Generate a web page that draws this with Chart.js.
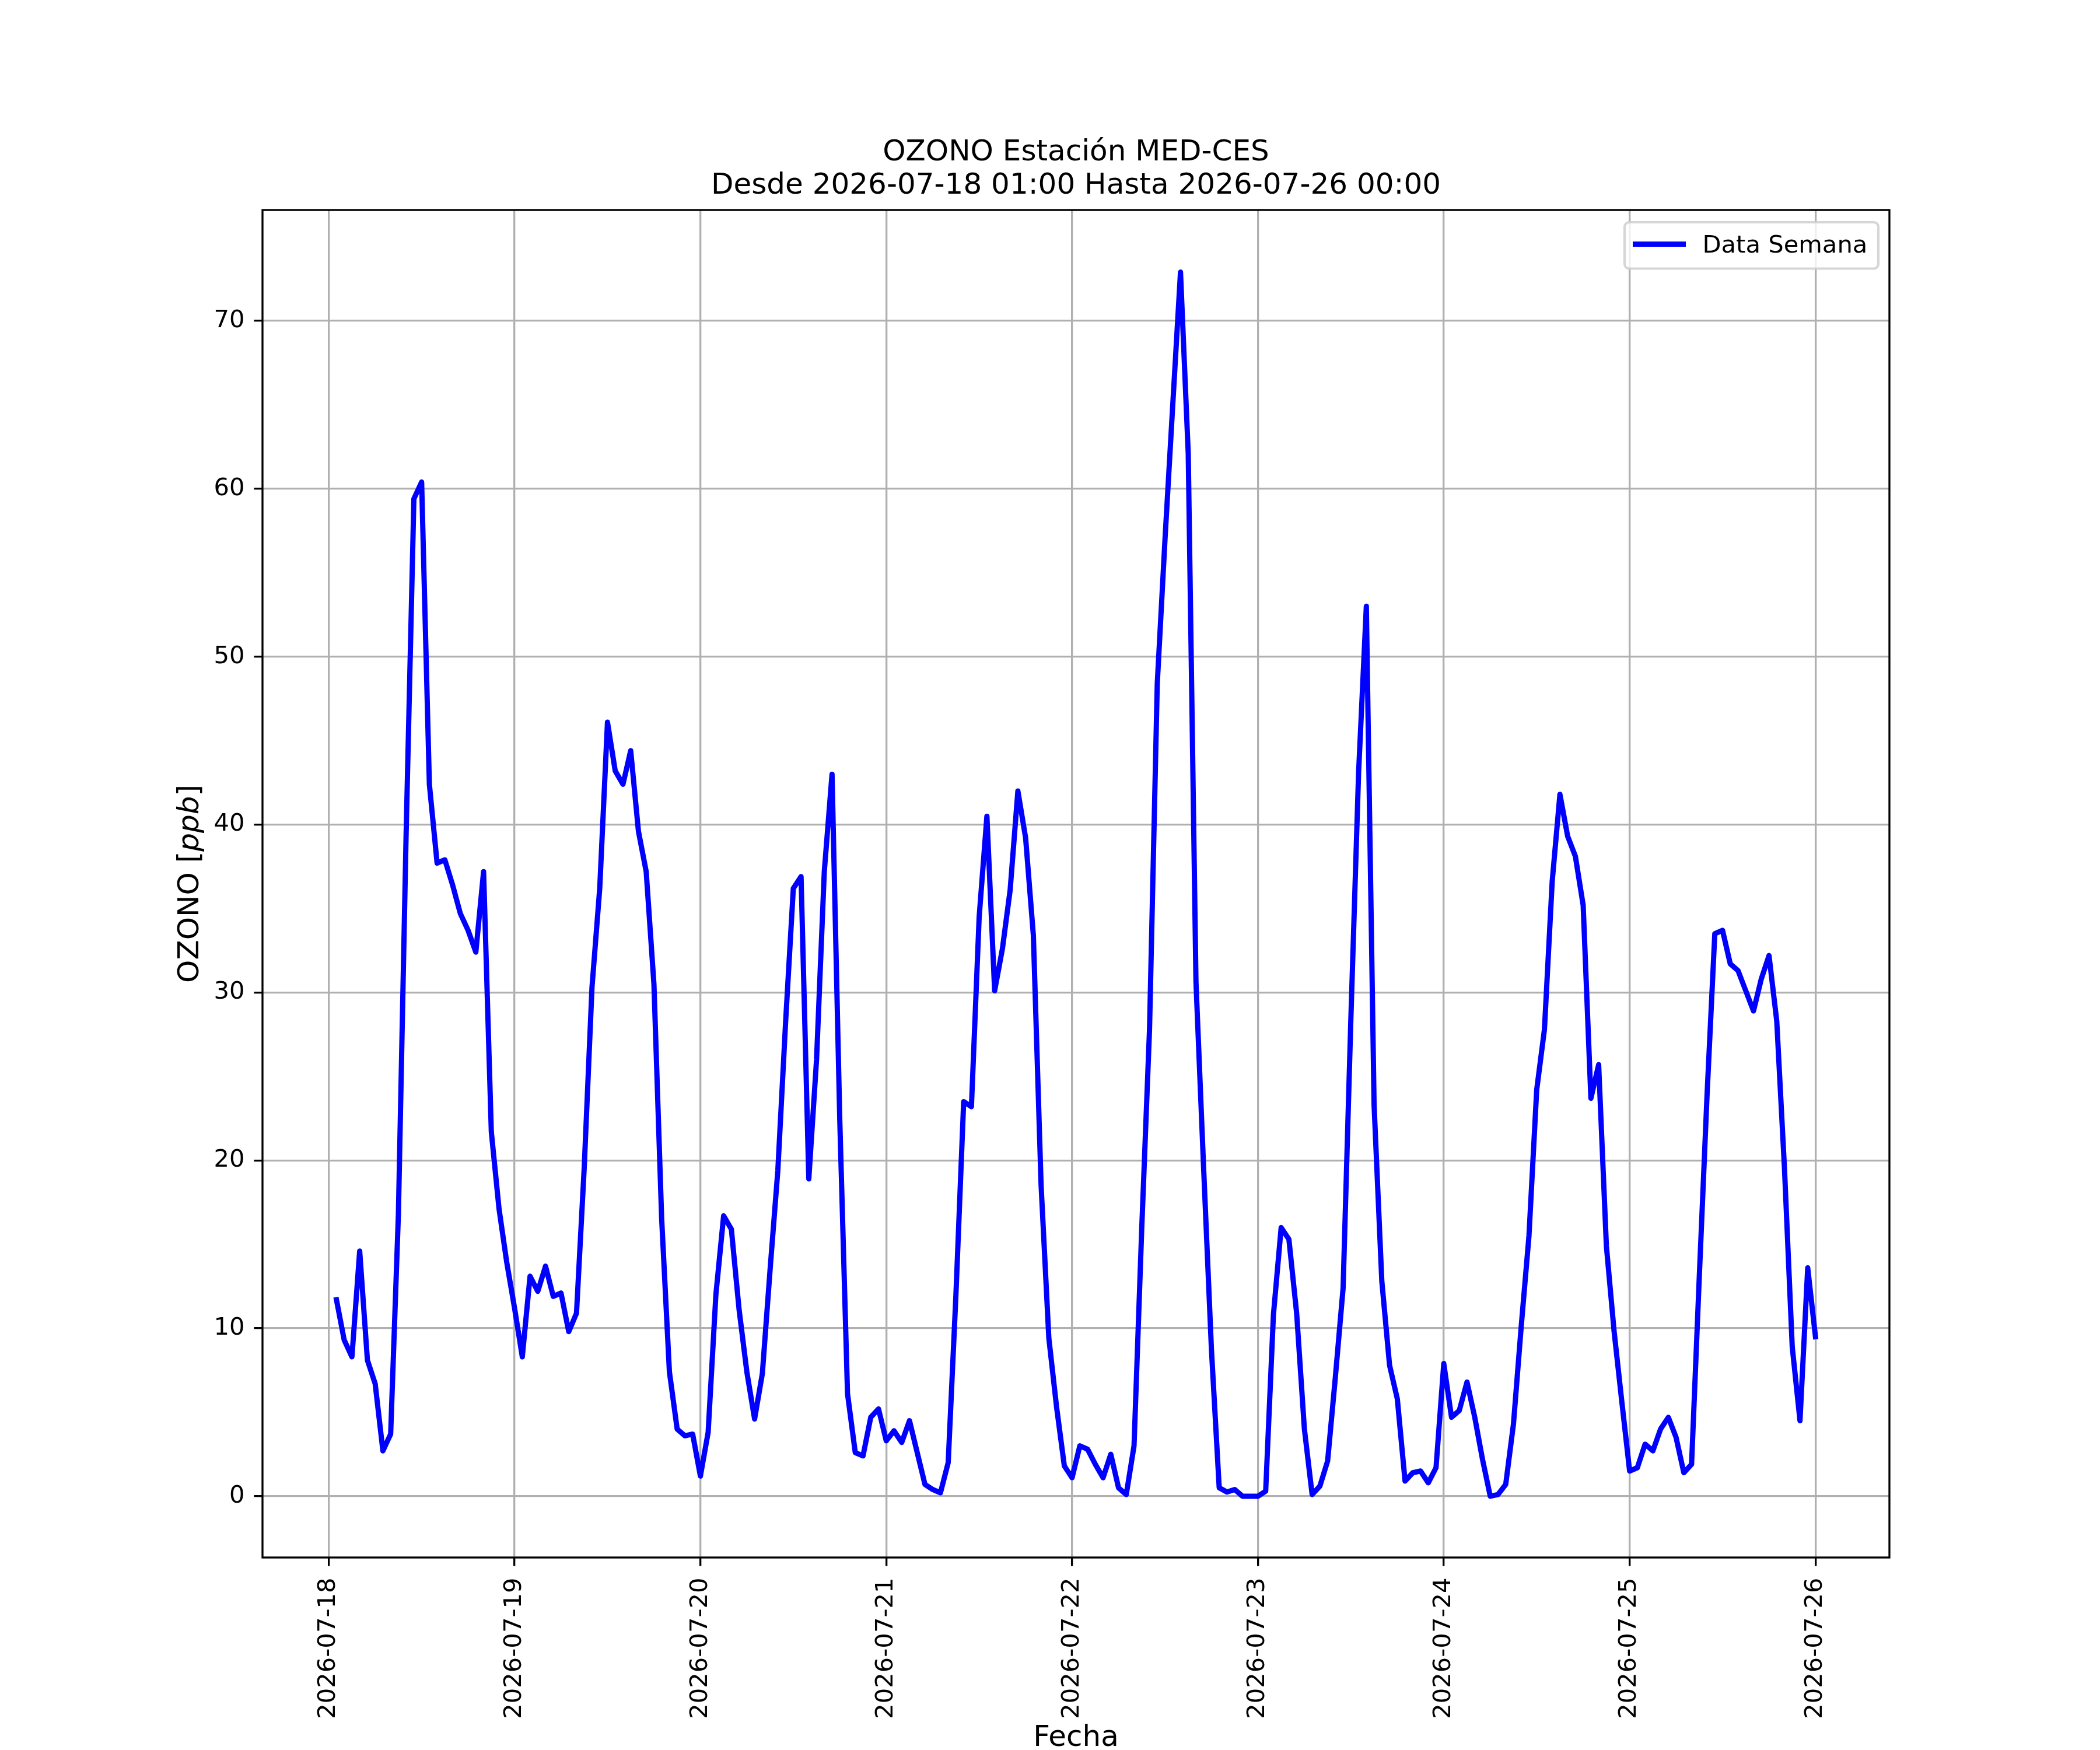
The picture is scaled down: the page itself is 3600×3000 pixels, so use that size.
<!DOCTYPE html>
<html>
<head>
<meta charset="utf-8">
<title>OZONO Estación MED-CES</title>
<script src="https://cdn.jsdelivr.net/npm/chart.js@4.4.1/dist/chart.umd.min.js"></script>
<style>
  html, body { margin: 0; padding: 0; background: #fff; }
  #wrap { width: 3600px; height: 3000px; }
</style>
</head>
<body>
<div id="wrap"><canvas id="grafico" width="3600" height="3000"></canvas></div>
<script>
// Ozono horario [ppb], desde 2026-07-18 01:00 hasta 2026-07-26 00:00 (una fila por dia)
const ozono = [
  11.7, 9.3, 8.3, 14.6, 8.1, 6.7, 2.7, 3.7, 16.8, 39.5, 59.4, 60.4, 42.4, 37.7, 37.9, 36.4, 34.7, 33.7, 32.4, 37.2, 21.7, 17.1, 13.9, 11.2,
  8.3, 13.1, 12.2, 13.7, 11.9, 12.1, 9.8, 10.9, 19.6, 30.3, 36.2, 46.1, 43.2, 42.4, 44.4, 39.6, 37.2, 30.5, 16.5, 7.4, 4.0, 3.6, 3.7, 1.2,
  3.8, 12.0, 16.7, 15.9, 11.1, 7.4, 4.6, 7.3, 13.5, 19.4, 28.2, 36.2, 36.9, 18.9, 26.0, 37.2, 43.0, 22.4, 6.1, 2.6, 2.4, 4.7, 5.2, 3.3,
  3.9, 3.2, 4.5, 2.6, 0.7, 0.4, 0.2, 2.0, 12.0, 23.5, 23.2, 34.5, 40.5, 30.1, 32.6, 36.1, 42.0, 39.2, 33.4, 18.5, 9.4, 5.3, 1.8, 1.1,
  3.0, 2.8, 1.9, 1.1, 2.5, 0.5, 0.1, 3.0, 16.0, 27.8, 48.4, 57.0, 65.0, 72.9, 62.1, 30.6, 19.4, 8.7, 0.5, 0.25, 0.4, 0.0, 0.0, 0.0,
  0.3, 10.8, 16.0, 15.3, 10.9, 4.0, 0.1, 0.6, 2.1, 7.1, 12.4, 28.4, 43.1, 53.0, 23.3, 12.8, 7.8, 5.8, 0.9, 1.4, 1.5, 0.8, 1.7, 7.9,
  4.7, 5.1, 6.8, 4.7, 2.2, 0.0, 0.1, 0.7, 4.3, 10.1, 15.5, 24.2, 27.8, 36.6, 41.8, 39.3, 38.1, 35.2, 23.7, 25.7, 14.9, 9.8, 5.6, 1.5,
  1.7, 3.1, 2.7, 4.0, 4.7, 3.5, 1.4, 1.9, 13.1, 23.9, 33.5, 33.7, 31.7, 31.3, 30.1, 28.9, 30.8, 32.2, 28.3, 19.5, 8.9, 4.5, 13.6, 9.5
];
const fechas = ['2026-07-18', '2026-07-19', '2026-07-20', '2026-07-21', '2026-07-22',
                '2026-07-23', '2026-07-24', '2026-07-25', '2026-07-26'];
const yTicks = [0, 10, 20, 30, 40, 50, 60, 70];
const titulo = ['OZONO Estación MED-CES', 'Desde 2026-07-18 01:00 Hasta 2026-07-26 00:00'];
const nombreSerie = 'Data Semana';

// matplotlib points -> px (figure at 300 dpi)
const PT = 300 / 72;
const FUENTE = '"DejaVu Sans", sans-serif';

Chart.defaults.font.family = FUENTE;
Chart.defaults.color = '#000';

// hours counted from 2026-07-18 00:00, first reading is 01:00
const puntos = ozono.map((v, i) => ({ x: i + 1, y: v }));

// frame, y label with italic unit, legend box like matplotlib
const decoracion = {
  id: 'decoracion',
  afterDatasetsDraw(chart) {
    const { ctx, chartArea: a } = chart;
    ctx.save();
    ctx.strokeStyle = '#000';
    ctx.lineWidth = 0.8 * PT;
    ctx.strokeRect(a.left, a.top, a.right - a.left, a.bottom - a.top);
    ctx.restore();
  },
  afterDraw(chart) {
    const { ctx, chartArea: a } = chart;

    // y label "OZONO [ppb]" with ppb in italics
    const partes = [['OZONO [', 'normal'], ['ppb', 'italic'], [']', 'normal']];
    ctx.save();
    ctx.translate(340, (a.top + a.bottom) / 2);
    ctx.rotate(-Math.PI / 2);
    ctx.fillStyle = '#000';
    ctx.textBaseline = 'alphabetic';
    ctx.textAlign = 'left';
    let total = 0;
    partes.forEach(p => { ctx.font = p[1] + ' 50px ' + FUENTE; total += ctx.measureText(p[0]).width; });
    let px = -total / 2;
    partes.forEach(p => {
      ctx.font = p[1] + ' 50px ' + FUENTE;
      ctx.fillText(p[0], px, 0);
      px += ctx.measureText(p[0]).width;
    });
    ctx.restore();

    // legend
    const ds = chart.data.datasets[0];
    const w = 435, h = 79.5;
    const x0 = a.right - 19 - w, y0 = a.top + 21;
    const r = 8;
    ctx.save();
    ctx.beginPath();
    ctx.moveTo(x0 + r, y0);
    ctx.arcTo(x0 + w, y0, x0 + w, y0 + h, r);
    ctx.arcTo(x0 + w, y0 + h, x0, y0 + h, r);
    ctx.arcTo(x0, y0 + h, x0, y0, r);
    ctx.arcTo(x0, y0, x0 + w, y0, r);
    ctx.closePath();
    ctx.fillStyle = 'rgba(255,255,255,0.8)';
    ctx.fill();
    ctx.strokeStyle = 'rgba(204,204,204,0.8)';
    ctx.lineWidth = 1.0 * PT;
    ctx.stroke();

    ctx.beginPath();
    ctx.moveTo(x0 + 14, y0 + 37.5);
    ctx.lineTo(x0 + 105, y0 + 37.5);
    ctx.strokeStyle = ds.borderColor;
    ctx.lineWidth = ds.borderWidth;
    ctx.lineCap = 'butt';
    ctx.stroke();

    ctx.fillStyle = '#000';
    ctx.font = (10 * PT) + 'px ' + FUENTE;
    ctx.textBaseline = 'alphabetic';
    ctx.fillText(ds.label, x0 + 133.5, y0 + 52);
    ctx.restore();
  }
};

const grid = {
  color: '#b0b0b0',
  lineWidth: 0.8 * PT,
  tickColor: '#000',
  tickWidth: 0.8 * PT,
  tickLength: 3.5 * PT
};

new Chart(document.getElementById('grafico'), {
  type: 'line',
  data: {
    datasets: [{
      label: nombreSerie,
      data: puntos,
      borderColor: '#0000ff',
      borderWidth: 9,
      pointRadius: 0,
      tension: 0,
      fill: false,
      borderJoinStyle: 'round',
      borderCapStyle: 'square'
    }]
  },
  options: {
    responsive: false,
    animation: false,
    devicePixelRatio: 1,
    layout: { padding: { left: 0, right: 361, top: 0, bottom: 0 } },
    plugins: {
      legend: { display: false },
      tooltip: { enabled: false },
      title: {
        display: true,
        text: titulo,
        fullSize: false,
        color: '#000',
        font: { size: 50, weight: 'normal', lineHeight: 1.134 },
        padding: { top: 234, bottom: 12.6 }
      }
    },
    scales: {
      x: {
        type: 'linear',
        min: -8.55,
        max: 201.55,
        grid: grid,
        border: { display: false },
        afterBuildTicks: s => { s.ticks = fechas.map((f, i) => ({ value: i * 24 })); },
        afterFit: s => { s.height = 330; },
        ticks: {
          autoSkip: false,
          minRotation: 90,
          maxRotation: 90,
          padding: 20,
          font: { size: 10 * PT },
          callback: (v, i) => fechas[i]
        },
        title: {
          display: true,
          text: 'Fecha',
          font: { size: 50, lineHeight: 0.8 },
          padding: { top: 0, bottom: 0 }
        }
      },
      y: {
        min: -3.65,
        max: 76.6,
        grid: grid,
        border: { display: false },
        afterBuildTicks: s => { s.ticks = yTicks.map(v => ({ value: v })); },
        afterFit: s => { s.width = 450; },
        ticks: {
          padding: 16,
          font: { size: 10 * PT },
          callback: v => String(v)
        }
      }
    }
  },
  plugins: [decoracion]
});
</script>
</body>
</html>
